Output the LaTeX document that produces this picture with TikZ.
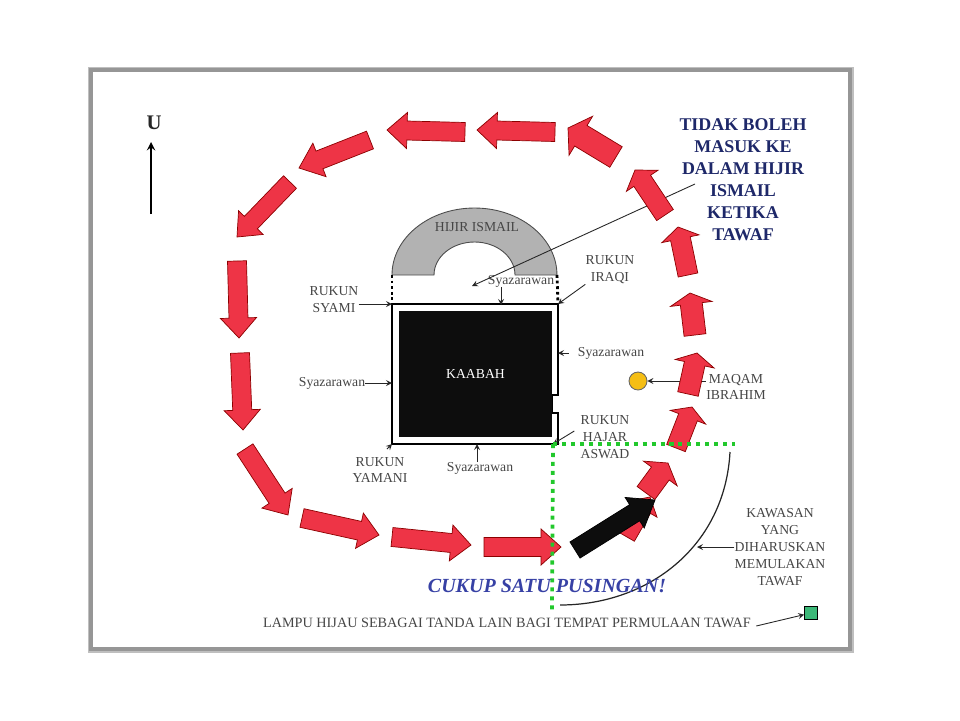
\documentclass[tikz,border=0pt]{standalone}
\usepackage{fontspec}
\setmainfont{Liberation Serif}
\usetikzlibrary{calc}
\definecolor{framegray}{RGB}{150, 150, 150}
\definecolor{flowred}{RGB}{238, 52, 70}
\definecolor{hijirgray}{RGB}{178, 178, 178}
\definecolor{labelgray}{RGB}{70, 70, 70}
\definecolor{startgreen}{RGB}{34, 200, 44}
\definecolor{lampgreen}{RGB}{60, 184, 120}
\definecolor{noteblue}{RGB}{30, 40, 105}
\definecolor{cukupblue}{RGB}{55, 65, 165}
\definecolor{maqamyellow}{RGB}{245, 190, 20}
\tikzset{
  label/.style = {
    inner sep  = 0pt,
    align      = center,
    text       = labelgray,
    font       = \fontsize{7.8}{9.6}\selectfont
  },
  leader/.style   = {draw = black!85, line width = 0.5pt, -stealth},
  redarrow/.style = {draw = red!55!black, line width = 0.4pt, fill = flowred},
  blackarrow/.style = {draw = black, fill = black!95},
  wall/.style     = {draw = black, line width = 1pt, fill = white},
  dotwall/.style  = {draw = black, line width = 1.6pt, dash pattern = on 1.6pt off 1.6pt},
  greenline/.style = {
    draw        = startgreen,
    line width  = 2.1pt,
    dash pattern = on 2.3pt off 2.8pt
  }
}
% tail, tip, half width of shaft, length of head (all in px of the picture)
\newcommand{\flowarrow}[7][redarrow]{
  \coordinate (ta) at (#2,#3);
  \coordinate (pe) at (#4,#5);
  \coordinate (ba) at ($(pe)!#7*0.02cm!(ta)$);
  \draw[#1] ($(ta)!#6*0.02cm!90:(pe)$) -- ($(ba)!#6*0.02cm!-90:(ta)$)
    -- ($(ba)!#6*0.038cm!-90:(ta)$) -- (pe)
    -- ($(ba)!#6*0.038cm!90:(ta)$) -- ($(ba)!#6*0.02cm!90:(ta)$)
    -- ($(ta)!#6*0.02cm!-90:(pe)$) -- cycle;
}

\begin{document}
\begin{tikzpicture}[x=0.02cm, y=-0.02cm]
  \useasboundingbox (0,0) rectangle (960,720);

  % frame
  \draw[draw = black!25, line width = 3.6pt] (91,70) rectangle (851,650);
  \draw[draw = framegray, line width = 2.6pt, fill = white] (91,70) rectangle (850,649);

  % hijir ismail
  \draw[draw = black!70, line width = 0.5pt, fill = hijirgray] (392,275)
    arc[start angle = 180, end angle = 0, x radius = 1.65cm, y radius = 1.34cm]
    -- (515,275)
    arc[start angle = 0, end angle = 180, x radius = 0.81cm, y radius = 0.66cm]
    -- cycle;
  \coordinate (hijirW) at (392,275);
  \coordinate (hijirE) at (557,275);

  % kaabah
  \coordinate (nw) at (392,304);
  \coordinate (ne) at (558,304);
  \coordinate (sw) at (392,444);
  \coordinate (se) at (553,444);
  \draw[wall] (nw) -- (ne) -- (558,395) -- (552,395) -- (552,413) -- (558,413)
    -- (558,444) -- (sw) -- cycle;
  \node[
    fill         = black!95,
    inner sep    = 0pt,
    minimum width  = 3.06cm,
    minimum height = 2.52cm,
    text         = white,
    font         = \fontsize{7.8}{9.6}\selectfont
  ] (kaabah) at (475.5,374) {\raisebox{-2pt}{KAABAH}};
  \draw[dotwall] (hijirW) -- (nw);
  \draw[dotwall] (hijirE) -- (ne);

  % labels
  \node[label] (hijir) at (477,227) {HIJIR ISMAIL};
  \node[label] (syzTop) at (521,281) {Syazarawan};
  \node[label] (iraqi) at (610,270) {RUKUN\\IRAQI};
  \node[label] (syami) at (334,300) {RUKUN\\SYAMI};
  \node[label] (syzRight) at (611,353) {Syazarawan};
  \node[label] (syzLeft) at (332,383) {Syazarawan};
  \node[label] (hajar) at (605,437) {RUKUN\\HAJAR\\ASWAD};
  \node[label] (yamani) at (380,470) {RUKUN\\YAMANI};
  \node[label] (syzBottom) at (480,468) {Syazarawan};
  \node[label] (ibrahim) at (736,387) {MAQAM\\IBRAHIM};
  \node[label] (kawasan) at (780,547) {KAWASAN\\YANG\\DIHARUSKAN\\MEMULAKAN\\TAWAF};
  \node[label, font = \fontsize{8.1}{9.6}\selectfont] (lampu) at (507,623)
    {LAMPU HIJAU SEBAGAI TANDA LAIN BAGI TEMPAT PERMULAAN TAWAF};
  \node[
    inner sep = 0pt,
    text      = black!85,
    font      = \fontsize{11.8}{14}\selectfont\bfseries
  ] (utara) at (154,123) {U};

  % maqam and lamp
  \node[circle, draw = black!60, line width = 0.5pt, fill = maqamyellow,
    inner sep = 0pt, minimum size = 0.36cm] (maqam) at (638,381) {};
  \node[rectangle, draw = black, line width = 0.6pt, fill = lampgreen,
    inner sep = 0pt, minimum size = 0.25cm] (lamp) at (811,613) {};

  % leaders
  \coordinate (noteEnd) at (695,184);
  \coordinate (noteTip) at (472,286);
  \coordinate (utaraFoot) at (151,214);
  \coordinate (utaraTip) at (151,142);
  \coordinate (curveTop) at (730,452);
  \coordinate (curveEnd) at (560,605);
  \coordinate (curveMid) at (697,547);
  \coordinate (yamaniFoot) at (387,449);
  \draw[leader] (noteEnd) -- (noteTip);
  \draw[leader] (syami.east |- nw) -- (nw);
  \draw[leader] (iraqi.south west) -- (ne);
  \draw[leader] (syzTop.south -| 501,0) -- (501,305);
  \draw[leader] (syzRight.west) ++(-9,0) -- (558,353);
  \draw[leader] (syzLeft.east) -- (392,383);
  \draw[leader] (hajar.west) ++(-6,-6) -- (se);
  \draw[leader] (yamaniFoot) -- (sw);
  \draw[leader] (syzBottom.north -| 477,0) -- (477,444);
  \draw[leader] (ibrahim.west |- maqam) -- (maqam);
  \draw[leader] (kawasan.west |- curveMid) -- (curveMid);
  \draw[leader] (lampu.east) ++(5,3) -- (lamp);
  \draw[-stealth, line width = 1.1pt] (utaraFoot) -- (utaraTip);
  \draw[draw = black!85, line width = 0.7pt] (curveTop)
    .. controls (725,545) and (650,605) .. (curveEnd);

  % flow arrows
  \foreach \ax/\ay/\bx/\by/\hw/\hl in {
    484/547/561/547/9.5/20,
    392/537/471/545/9.5/20,
    302/518/379/535/9.5/20,
    245/449/288/515/9.5/20,
    240/353/243/430/9.5/20,
    237/261/239/338/9.5/20,
    290/182/237/237/9/20,
    370/140/299/168/9.5/22,
    465/132/387/130/9.5/20,
    555/132/477/130/9.5/20,
    616/157/568/128/12/15,
    665/215/635/170/10/13,
    688/275/678/227/10/12,
    695/335/690/293/11/11,
    688/394/697/353/10.5/11,
    676/448/692/407/10/11,
    646/493/668/463/11/13,
    627/537/650/497/8.5/14%
  }{
    \flowarrow{\ax}{\ay}{\bx}{\by}{\hw}{\hl}
  }
  \flowarrow[blackarrow]{575}{550}{655}{500}{9.5}{24}

  % start lines
  \coordinate (greenEast) at (735,444);
  \coordinate (greenSouth) at (552,610);
  \draw[greenline] (se) -- (greenEast);
  \draw[greenline] (se) -- (greenSouth);

  % notes
  \node[
    inner sep = 0pt,
    align     = center,
    text      = noteblue,
    font      = \fontsize{10.2}{12.5}\selectfont\bfseries
  ] (note) at (743,180) {TIDAK BOLEH\\MASUK KE\\DALAM HIJIR\\ISMAIL\\KETIKA\\TAWAF};
  \node[
    inner sep = 0pt,
    text      = cukupblue,
    font      = \fontsize{11.4}{14}\selectfont\bfseries\itshape
  ] (cukup) at (547,586) {CUKUP SATU PUSINGAN!};
\end{tikzpicture}
\end{document}
